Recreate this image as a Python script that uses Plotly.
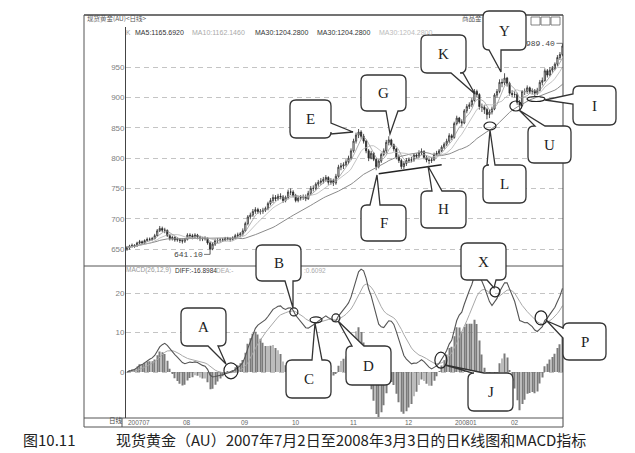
import plotly.graph_objects as go
import pandas as pd

W, H = 635, 453

# ---------------- data ----------------
month_labels = ['200707', '08', '09', '10', '11', '12', '200801', '02']
month_lengths = [22, 23, 20, 23, 22, 20, 22, 21, 1]

open_ = [
    650, 652, 655, 656, 655, 660, 662, 660, 664, 666, 666, 667, 672, 680, 684, 681, 681, 672, 667, 669, 665, 666,
    664, 663, 666, 673, 672, 670, 673, 670, 667, 667, 668, 660, 650, 658, 664, 664, 665, 665, 667, 667, 666, 668, 672,
    673, 675, 680, 692, 703, 706, 712, 715, 712, 712, 714, 717, 725, 730, 735, 733, 737, 736, 730, 735,
    744, 744, 738, 730, 734, 735, 736, 733, 742, 750, 750, 757, 760, 762, 765, 768, 760, 763, 759, 770, 785, 787, 789,
    794, 800, 812, 828, 838, 843, 836, 828, 812, 800, 808, 798, 786, 795, 806, 812, 826, 830, 822, 815, 802, 796,
    786, 791, 796, 797, 797, 805, 803, 809, 811, 801, 797, 796, 797, 806, 808, 812, 818, 823, 828, 837,
    834, 857, 866, 860, 858, 878, 885, 888, 895, 910, 905, 885, 884, 880, 872, 876, 881, 904, 910, 925, 924, 932,
    923, 907, 905, 905, 892, 887, 910, 910, 916, 910, 911, 907, 912, 925, 928, 944, 937, 945, 948, 955, 966,
    971,
]
high = [
    655, 657, 659, 658, 662, 665, 664, 666, 669, 669, 670, 675, 683, 688, 687, 685, 682, 675, 672, 671, 669, 668,
    667, 668, 676, 676, 675, 676, 675, 672, 670, 671, 669, 662, 661, 667, 668, 668, 668, 670, 670, 669, 671, 675, 677,
    678, 684, 695, 706, 710, 716, 719, 718, 716, 718, 720, 728, 734, 740, 739, 741, 742, 739, 738, 748,
    750, 747, 741, 737, 739, 740, 740, 746, 754, 755, 760, 764, 767, 769, 772, 770, 767, 766, 774, 789, 792, 793, 798,
    804, 816, 832, 842, 848, 846, 840, 830, 815, 812, 810, 800, 798, 809, 816, 830, 836, 832, 824, 817, 806, 799,
    795, 800, 801, 802, 808, 808, 813, 816, 813, 804, 800, 801, 809, 812, 815, 821, 826, 832, 841, 840,
    860, 870, 868, 864, 881, 889, 892, 899, 914, 913, 907, 890, 888, 883, 880, 885, 907, 914, 930, 931, 940, 934,
    926, 912, 910, 908, 896, 912, 915, 920, 918, 915, 914, 916, 929, 933, 948, 947, 950, 952, 958, 970, 975,
    989.4,
]
low = [
    647, 649, 652, 652, 654, 658, 657, 658, 662, 663, 664, 666, 671, 678, 678, 676, 670, 664, 664, 662, 662, 660,
    659, 660, 664, 668, 666, 668, 666, 663, 663, 664, 657, 641.1, 648, 655, 660, 661, 662, 663, 664, 662, 664, 666, 669,
    670, 672, 678, 689, 699, 703, 708, 708, 707, 708, 711, 714, 722, 726, 729, 730, 732, 726, 727, 732,
    739, 735, 727, 727, 730, 731, 729, 731, 739, 745, 747, 753, 756, 758, 761, 756, 756, 754, 756, 767, 780, 782, 786,
    790, 797, 809, 824, 833, 832, 824, 808, 795, 798, 795, 780, 783, 792, 803, 808, 821, 819, 811, 798, 792, 782,
    782, 787, 792, 793, 794, 799, 800, 805, 798, 793, 790, 792, 795, 803, 805, 810, 815, 820, 825, 830,
    832, 854, 857, 852, 856, 874, 881, 884, 893, 900, 880, 876, 873, 864, 866, 872, 879, 900, 907, 917, 920, 918,
    903, 900, 900, 888, 880, 885, 904, 906, 906, 905, 902, 904, 910, 920, 926, 933, 935, 941, 945, 952, 962,
    968,
]
close = [
    652, 655, 656, 655, 660, 662, 660, 664, 666, 666, 667, 672, 680, 684, 681, 681, 672, 667, 669, 665, 666, 664,
    663, 666, 673, 672, 670, 673, 670, 667, 667, 668, 660, 650, 658, 664, 664, 665, 665, 667, 667, 666, 668, 672, 673,
    675, 680, 692, 703, 706, 712, 715, 712, 712, 714, 717, 725, 730, 735, 733, 737, 736, 730, 735, 744,
    744, 738, 730, 734, 735, 736, 733, 742, 750, 750, 757, 760, 762, 765, 768, 760, 763, 759, 770, 785, 787, 789, 794,
    800, 812, 828, 838, 843, 836, 828, 812, 800, 808, 798, 786, 795, 806, 812, 826, 830, 822, 815, 802, 796, 786,
    791, 796, 797, 797, 805, 803, 809, 811, 801, 797, 796, 797, 806, 808, 812, 818, 823, 828, 837, 834,
    857, 866, 860, 858, 878, 885, 888, 895, 910, 905, 885, 884, 880, 872, 876, 881, 904, 910, 925, 924, 932, 923,
    907, 905, 905, 892, 887, 910, 910, 916, 910, 911, 907, 912, 925, 928, 944, 937, 945, 948, 955, 966, 971,
    985,
]
price_ticks = [650, 700, 750, 800, 850, 900, 950]
macd_ticks = [0, 10, 20]

# trend line F-H and highlighted spots (index, value)
trend_FH = [(100, 774), (125, 789)]
price_marks = [(144.2, 853, 6, 4), (154.5, 886, 6, 5), (162.5, 897.5, 9, 2.5)]          # L, U, I
macd_marks = [(41.3, 0.3, 7, 8), (66.3, 15.2, 4, 4), (75.1, 13.2, 6, 3), (83.0, 13.7, 4, 4),
              (124.7, 3.0, 6, 8), (146.2, 20.3, 5, 5), (164.5, 13.7, 6, 7)]              # A B C D J X P

# ---------------- indicators ----------------
idx = list(range(len(close)))
s = pd.Series(close, dtype=float)
ma5 = s.rolling(5, min_periods=1).mean()
ma10 = s.rolling(10, min_periods=1).mean()
ma30 = s.rolling(30, min_periods=1).mean()
diff = s.ewm(span=12, adjust=False).mean() - s.ewm(span=26, adjust=False).mean()
dea = diff.ewm(span=9, adjust=False).mean()
hist = 2 * (diff - dea)
month_starts = [sum(month_lengths[:k]) for k in range(len(month_labels))]

# ---------------- pixel calibration (layout) ----------------
X_L, X_R = 117.5, 555.0
P_TOP, SPLIT, M_BOT = 19, 258, 410
X0 = -0.6
PX_PER_DAY = 2.517
X1 = X0 + (X_R - X_L) / PX_PER_DAY


def py2price(py):
    return 650 + (241 - py) * 50 / 30.3


def py2macd(py):
    return (364 - py) * 10 / 39.5


def PX(px):
    return px / W


def PY(py):
    return 1 - py / H


fig = go.Figure()
fig.add_trace(go.Candlestick(
    x=idx, open=open_, high=high, low=low, close=close, xaxis='x', yaxis='y',
    increasing=dict(line=dict(color='#2a2a2a', width=0.8), fillcolor='white'),
    decreasing=dict(line=dict(color='#2a2a2a', width=0.8), fillcolor='#2a2a2a'),
    whiskerwidth=0, showlegend=False, hoverinfo='skip'))
for ser, col, w in [(ma30, '#8a8a8a', 1.0), (ma10, '#b5b5b5', 0.8), (ma5, '#9a9a9a', 0.8)]:
    fig.add_trace(go.Scatter(x=idx, y=ser, mode='lines', line=dict(color=col, width=w),
                             xaxis='x', yaxis='y', showlegend=False, hoverinfo='skip'))
fig.add_trace(go.Bar(x=idx, y=hist, width=0.35, marker=dict(color='#7a7a7a', line=dict(width=0)),
                     xaxis='x', yaxis='y2', showlegend=False, hoverinfo='skip'))
fig.add_trace(go.Scatter(x=idx, y=dea, mode='lines', line=dict(color='#a8a8a8', width=1),
                         xaxis='x', yaxis='y2', showlegend=False, hoverinfo='skip'))
fig.add_trace(go.Scatter(x=idx, y=diff, mode='lines', line=dict(color='#555555', width=1.1),
                         xaxis='x', yaxis='y2', showlegend=False, hoverinfo='skip'))

tickfont = dict(family='Liberation Sans', size=8, color='#808080')
fig.update_layout(
    width=W, height=H, margin=dict(l=0, r=0, t=0, b=0),
    paper_bgcolor='white', plot_bgcolor='white', showlegend=False,
    xaxis=dict(domain=[PX(X_L), PX(X_R)], range=[X0, X1], anchor='y2', showticklabels=False,
               showgrid=False, zeroline=False, ticks='', rangeslider=dict(visible=False)),
    yaxis=dict(domain=[PY(SPLIT), PY(P_TOP)], range=[py2price(SPLIT), py2price(P_TOP)],
               tickvals=price_ticks, showgrid=True, gridcolor='#c4c4c4', griddash='5px,4px',
               zeroline=False, ticks='', tickfont=tickfont, anchor='x'),
    yaxis2=dict(domain=[PY(M_BOT), PY(SPLIT)], range=[py2macd(M_BOT), py2macd(SPLIT)],
                tickvals=macd_ticks, showgrid=True, gridcolor='#c4c4c4', griddash='5px,4px',
                zeroline=False, ticks='', tickfont=tickfont, anchor='x'),
)

shapes = []


def pline(x0, y0, x1, y1, color='#555', width=1):
    shapes.append(dict(type='line', xref='paper', yref='paper', x0=PX(x0), y0=PY(y0),
                       x1=PX(x1), y1=PY(y1), line=dict(color=color, width=width)))


# window frame
FR_L = 76
pline(FR_L, 7, X_R, 7, '#444', 1.6)
pline(FR_L, 7, FR_L, 419)
pline(X_R, 7, X_R, 419, '#444', 1)
pline(FR_L, 419, X_R, 419)
pline(FR_L, SPLIT, X_R, SPLIT)
pline(FR_L, M_BOT, X_R, M_BOT)
pline(X_L, P_TOP, X_L, M_BOT, '#444', 1)
pline(114, M_BOT, 114, 419)
for bx in (523, 533, 543):
    shapes.append(dict(type='rect', xref='paper', yref='paper', x0=PX(bx), x1=PX(bx + 9),
                       y0=PY(17), y1=PY(9), line=dict(color='#666', width=0.8)))

# trend line
shapes.append(dict(type='line', xref='x', yref='y', x0=trend_FH[0][0], y0=trend_FH[0][1],
                   x1=trend_FH[1][0], y1=trend_FH[1][1], line=dict(color='#222', width=1.5)))

# highlight ellipses (radii in pixels converted to data units)
PPU = 30.3 / 50
MPU = 39.5 / 10
for (i, v, rx, ry) in price_marks:
    shapes.append(dict(type='circle', xref='x', yref='y', x0=i - rx / PX_PER_DAY, x1=i + rx / PX_PER_DAY,
                       y0=v - ry / PPU, y1=v + ry / PPU, line=dict(color='#222', width=1.2)))
for (i, v, rx, ry) in macd_marks:
    shapes.append(dict(type='circle', xref='x', yref='y2', x0=i - rx / PX_PER_DAY, x1=i + rx / PX_PER_DAY,
                       y0=v - ry / MPU, y1=v + ry / MPU, line=dict(color='#222', width=1.2)))


# callout bubbles
def bubble(x0, y0, x1, y1, side, b0, b1, tip, r=6):
    def P(x, y):
        return f'{PX(x):.5f},{PY(y):.5f}'
    tx, ty = tip
    d = 'M' + P(x0 + r, y0)
    if side == 'top':
        d += ' L' + P(b0, y0) + ' L' + P(tx, ty) + ' L' + P(b1, y0)
    d += ' L' + P(x1 - r, y0) + ' Q' + P(x1, y0) + ' ' + P(x1, y0 + r)
    if side == 'right':
        d += ' L' + P(x1, b0) + ' L' + P(tx, ty) + ' L' + P(x1, b1)
    d += ' L' + P(x1, y1 - r) + ' Q' + P(x1, y1) + ' ' + P(x1 - r, y1)
    if side == 'bottom':
        d += ' L' + P(b1, y1) + ' L' + P(tx, ty) + ' L' + P(b0, y1)
    d += ' L' + P(x0 + r, y1) + ' Q' + P(x0, y1) + ' ' + P(x0, y1 - r)
    if side == 'left':
        d += ' L' + P(x0, b1) + ' L' + P(tx, ty) + ' L' + P(x0, b0)
    d += ' L' + P(x0, y0 + r) + ' Q' + P(x0, y0) + ' ' + P(x0 + r, y0) + ' Z'
    return dict(type='path', xref='paper', yref='paper', path=d, fillcolor='white',
                line=dict(color='#333', width=1.3), layer='above')


bubbles = [
    ('E', (282, 92, 323, 130), 'right', 115, 126, (345, 124)),
    ('G', (353, 67, 398, 103), 'bottom', 378, 390, (382, 126)),
    ('K', (413, 27, 458, 65), 'bottom', 443, 455, (467, 86)),
    ('Y', (475, 3, 518, 42), 'bottom', 481, 493, (493, 64)),
    ('F', (353, 197, 398, 233), 'top', 362, 372, (369, 167)),
    ('H', (413, 183, 458, 220), 'top', 424, 434, (420, 158)),
    ('L', (475, 157, 518, 195), 'top', 479, 487, (482, 122)),
    ('U', (520, 118, 563, 155), 'top', 527, 537, (511, 102)),
    ('I', (565, 78, 608, 117), 'left', 86, 96, (537, 92)),
    ('A', (173, 300, 218, 338), 'bottom', 200, 210, (218, 356)),
    ('B', (248, 237, 293, 273), 'bottom', 277, 285, (285, 300)),
    ('C', (278, 352, 323, 390), 'top', 304, 314, (307, 315)),
    ('D', (338, 338, 383, 377), 'top', 344, 356, (330, 313)),
    ('J', (460, 365, 505, 403), 'top', 465, 476, (437, 357)),
    ('X', (453, 235, 498, 272), 'bottom', 479, 488, (486, 280)),
    ('P', (555, 315, 598, 352), 'left', 320, 330, (539, 313)),
]

annotations = []


def ptext(x, y, text, size=7, color='#444', family='Liberation Sans', xanchor='left'):
    annotations.append(dict(xref='paper', yref='paper', x=PX(x), y=PY(y), text=text, showarrow=False,
                            xanchor=xanchor, yanchor='middle', borderpad=0,
                            font=dict(family=family, size=size, color=color)))


# header texts (drawn before bubbles so bubbles cover them)
ptext(78, 10, '现货黄金(AU)&lt;日线&gt;', 6.5, '#555', 'Noto Sans CJK SC')
ptext(453, 10, '商品金', 6.5, '#555', 'Noto Sans CJK SC')
ptext(117, 25, 'K', 6.5, '#999')
ptext(126, 25, 'MA5:1165.6920', 7, '#333')
ptext(183, 25, 'MA10:1162.1460', 7, '#aaa')
ptext(246, 25, 'MA30:1204.2800', 7, '#333')
ptext(308, 25, 'MA30:1204.2800', 7, '#333')
ptext(370, 25, 'MA30:1204.2800', 7, '#bbb')
ptext(117, 262, 'MACD(26,12,9)', 6.5, '#999')
ptext(166, 262, 'DIFF:-16.8984', 6.5, '#333')
ptext(207, 262, 'DEA:-', 6.5, '#aaa')
ptext(295, 262, ':0.6092', 6.5, '#aaa')
ptext(100, 412, '日线', 6.5, '#444', 'Noto Sans CJK SC')
for lab, st in zip(month_labels, month_starts):
    annotations.append(dict(xref='x', yref='paper', x=st, y=PY(414.5), text=lab, showarrow=False,
                            xanchor='left', yanchor='middle', borderpad=0,
                            font=dict(family='Liberation Sans', size=6.5, color='#666')))

# extreme labels
annotations.append(dict(xref='x', yref='y', x=33, y=641.1, text='641.10', showarrow=True, arrowhead=0,
                        arrowwidth=0.8, arrowcolor='#555', ax=-22, ay=0,
                        font=dict(family='Liberation Mono', size=8, color='#444')))
annotations.append(dict(xref='x', yref='y', x=173, y=989.4, text='989.40', showarrow=True, arrowhead=0,
                        arrowwidth=0.8, arrowcolor='#555', ax=-22, ay=0,
                        font=dict(family='Liberation Mono', size=8, color='#444')))

for lab, (x0, y0, x1, y1), side, b0, b1, tip in bubbles:
    shapes.append(bubble(x0, y0, x1, y1, side, b0, b1, tip))
    ptext((x0 + x1) / 2, (y0 + y1) / 2, lab, 15, '#222', 'Liberation Serif', 'center')

# caption
ptext(14, 431, '图10.11', 15, '#222', 'Noto Sans CJK SC')
ptext(107, 431, '现货黄金（AU）2007年7月2日至2008年3月3日的日K线图和MACD指标', 15, '#222', 'Noto Sans CJK SC')

fig.update_layout(shapes=shapes, annotations=annotations)
fig.write_html('out.html')
